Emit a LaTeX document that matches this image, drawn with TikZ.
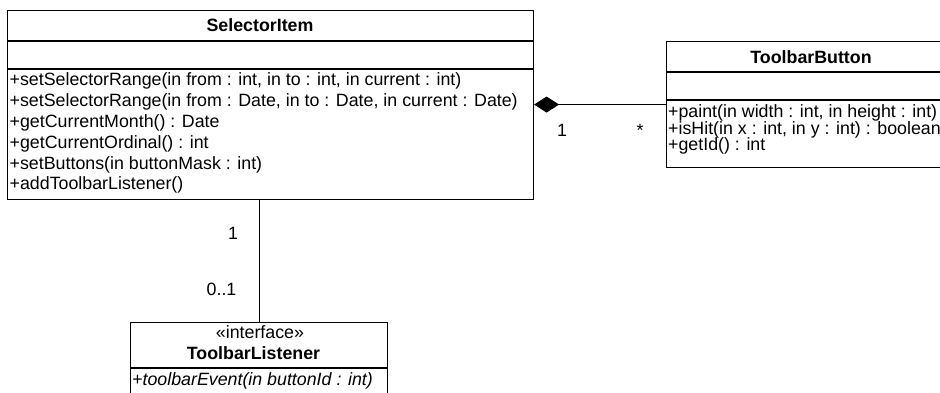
\documentclass[tikz,border=0pt]{standalone}
\usepackage{fontspec}
\setmainfont{Liberation Sans}
\usetikzlibrary{arrows.meta}
\begin{document}
\begin{tikzpicture}[x=1pt,y=-1pt,
  umlbox/.style={draw=black,line width=1.1pt,fill=white,rectangle,inner sep=0pt,anchor=north west},
  divider/.style={draw=black,line width=1.1pt},
  conn/.style={draw=black,line width=1pt},
  txt/.style={inner sep=0pt,font=\fontsize{17.8}{21}\selectfont},
  meth/.style={txt,anchor=base west},
  ttl/.style={txt,anchor=base,font=\fontsize{17.8}{21}\selectfont\bfseries},
  mult/.style={txt,anchor=base}]
\useasboundingbox (0,0) rectangle (940,392);
\clip (0,0) rectangle (940,392);
\fill[white] (0,0) rectangle (940,392);

% SelectorItem
\node[umlbox,minimum width=526pt,minimum height=189.5pt] (sel) at (7,9.5) {};
\draw[divider] (7,41) -- (533,41);
\draw[divider] (7,69) -- (533,69);
\node[ttl] (selT) at (260,31.2) {SelectorItem};
\node[meth] (m1) at (9.5,85.5) {+setSelectorRange(in from : int, in to : int, in current : int)};
\node[meth] (m2) at (9.5,106.3) {+setSelectorRange(in from : Date, in to : Date, in current : Date)};
\node[meth] (m3) at (9.5,127.2) {+getCurrentMonth() : Date};
\node[meth] (m4) at (9.5,148.1) {+getCurrentOrdinal() : int};
\node[meth] (m5) at (9.5,169) {+setButtons(in buttonMask : int)};
\node[meth] (m6) at (9.5,189.9) {+addToolbarListener()};

% ToolbarButton
\node[umlbox,minimum width=292pt,minimum height=126pt] (tb) at (666,41) {};
\draw[divider] (666,72) -- (958,72);
\draw[divider] (666,100) -- (958,100);
\node[ttl] (tbT) at (811,63) {ToolbarButton};
\node[meth] (b1) at (668,117.5) {+paint(in width : int, in height : int)};
\node[meth] (b2) at (668,134) {+isHit(in x : int, in y : int) : boolean};
\node[meth] (b3) at (668,150.5) {+getId() : int};

% ToolbarListener
\node[umlbox,minimum width=257pt,minimum height=80pt] (tl) at (130,322) {};
\draw[divider] (130,368) -- (387,368);
\node[txt,anchor=base] (tlS) at (260,338.5) {«interface»};
\node[ttl] (tlT) at (253.5,359.4) {ToolbarListener};
\node[meth,font=\fontsize{17.8}{21}\selectfont\itshape] (l1) at (132,385.5) {+toolbarEvent(in buttonId : int)};

% connectors
\draw[conn,{Diamond[length=25pt,width=16pt,fill=black]}-] (tb.west -| sel.east) -- (tb.west);
\draw[conn] (tl.north |- sel.south) -- (tl.north);

% multiplicities
\node[mult] (c1) at (562,136.5) {1};
\node[mult] (c2) at (640,136.5) {*};
\node[mult] (c3) at (233,239.4) {1};
\node[mult] (c4) at (221.5,295.4) {0..1};
\end{tikzpicture}
\end{document}
